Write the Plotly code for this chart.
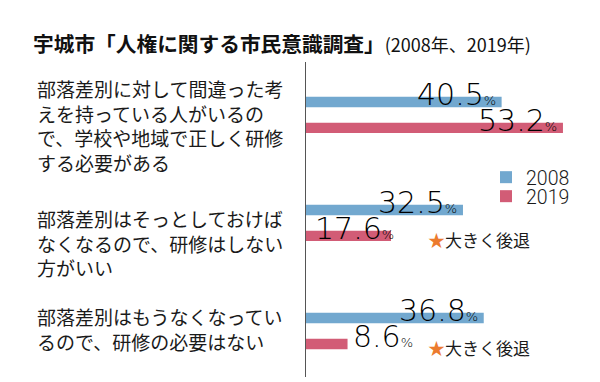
import plotly.graph_objects as go

# ---- data ----
categories = [
    "部落差別に対して間違った考<br>えを持っている人がいるの<br>で、学校や地域で正しく研修<br>する必要がある",
    "部落差別はそっとしておけば<br>なくなるので、研修はしない<br>方がいい",
    "部落差別はもうなくなってい<br>るので、研修の必要はない",
]
years = ["2008", "2019"]
values_2008 = [40.5, 32.5, 36.8]
values_2019 = [53.2, 17.6, 8.6]
notes = ["", "大きく後退", "大きく後退"]
title_main = "宇城市「人権に関する市民意識調査」"
title_sub = "(2008年、2019年)"

# ---- styles ----
colors = {"2008": "#72a8cf", "2019": "#d25c76"}
JP = "Noto Sans CJK JP"
NUM = "DejaVu Sans"
W, H = 600, 382
L, T, B = 306, 62, 5
PW, PH = W - L, H - T - B
# label placement mode per point: 'end' = right-aligned inside bar end,
# 'start' = from axis, 'outside' = right of bar end
place = {"2008": ["end", "end", "end"], "2019": ["end", "start", "outside"]}
label_yshift = [-11, -20, 2]
legend_ids = ["legend", "legend2"]
legend_top_px = [158, 177]

fig = go.Figure()
for i, (yr, vals) in enumerate(zip(years, [values_2008, values_2019])):
    fig.add_trace(go.Bar(
        y=categories, x=vals, name=yr, orientation="h",
        marker=dict(color=colors[yr], line=dict(width=0)),
        hoverinfo="x+name", legend=legend_ids[i],
    ))

annotations = []
for ti, (yr, vals) in enumerate(zip(years, [values_2008, values_2019])):
    ys = 20 if ti == 0 else -6
    for ci, v in enumerate(vals):
        mode = place[yr][ci]
        if mode == "end":
            xa, xv, xs = "right", v, -4
        elif mode == "start":
            xa, xv, xs = "left", 0, 7
        else:
            xa, xv, xs = "left", v, 3
        annotations.append(dict(
            x=xv, y=categories[ci], xref="x", yref="y",
            text=f"{v:.1f}<span style='font-size:13px'>%</span>",
            showarrow=False, xanchor=xa, yanchor="middle",
            xshift=xs, yshift=ys,
            font=dict(family=NUM, size=30, color="#000", weight=200),
        ))

for ci, cat in enumerate(categories):
    annotations.append(dict(
        x=(35 - L) / PW, y=cat, xref="paper", yref="y",
        text=cat, showarrow=False, xanchor="left", yanchor="middle",
        align="left", yshift=label_yshift[ci],
        font=dict(family=JP, size=19, color="#1a1a1a"),
    ))

for ci, n in enumerate(notes):
    if n:
        annotations.append(dict(
            x=(426 - L) / PW, y=categories[ci], xref="paper", yref="y",
            text=f"<span style='color:#ec7b2e'>★</span>{n}",
            showarrow=False, xanchor="left", yanchor="middle", yshift=-17,
            font=dict(family=JP, size=17, color="#1a1a1a"),
        ))

legend_style = dict(
    x=(486 - L) / PW, xanchor="left", yanchor="top",
    font=dict(family="Roboto", size=19.5, color="#1a1a1a", weight=300),
    bgcolor="rgba(0,0,0,0)", itemwidth=30,
)

fig.update_layout(
    width=W, height=H,
    margin=dict(l=L, r=0, t=T, b=B, autoexpand=False),
    paper_bgcolor="white", plot_bgcolor="white",
    barmode="group", bargap=0.52, bargroupgap=0.6,
    title=dict(
        text=f"<b>{title_main}</b><span style='font-size:18px'>{title_sub}</span>",
        x=33 / W, xref="container", xanchor="left",
        y=1 - 45 / H, yref="container", yanchor="middle",
        font=dict(family=JP, size=20.7, color="#111"),
    ),
    xaxis=dict(range=[0, PW / 4.83], showgrid=False, zeroline=False,
               showticklabels=False, ticks="", showline=False, fixedrange=True),
    yaxis=dict(range=[2.426, -0.49], showgrid=False, zeroline=False,
               showticklabels=False, ticks="", showline=True,
               linecolor="#555", linewidth=1.3),
    legend=dict(legend_style, y=1 - (legend_top_px[0] - T) / PH),
    legend2=dict(legend_style, y=1 - (legend_top_px[1] - T) / PH),
    annotations=annotations,
    showlegend=True,
)

fig.write_html("out.html",
               config={"displayModeBar": False},
               post_script="document.body.style.margin='0';"
                           "document.documentElement.style.overflow='hidden';")
